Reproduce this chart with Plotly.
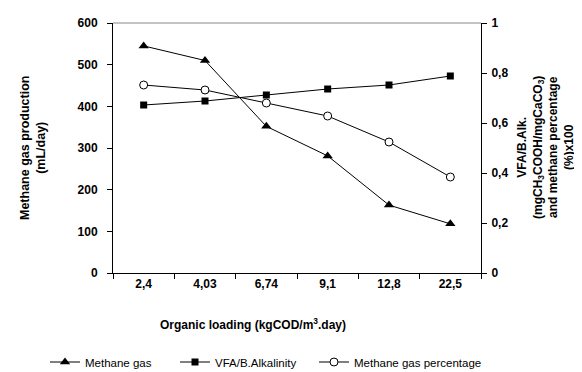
import plotly.graph_objects as go

categories = ["2,4", "4,03", "6,74", "9,1", "12,8", "22,5"]
methane_gas = [545, 510, 352, 281, 163, 118]
vfa_alk = [0.672, 0.688, 0.712, 0.736, 0.752, 0.788]
methane_pct = [0.752, 0.732, 0.680, 0.628, 0.524, 0.384]

font_family = "Liberation Sans, Arial, sans-serif"

fig = go.Figure()
fig.add_trace(go.Scatter(x=categories, y=methane_gas, name="Methane gas", mode="lines+markers",
                         legend="legend",
                         line=dict(color="black", width=1),
                         marker=dict(symbol="triangle-up", size=9, color="black")))
fig.add_trace(go.Scatter(x=categories, y=vfa_alk, name="VFA/B.Alkalinity", mode="lines+markers",
                         yaxis="y2", legend="legend2", line=dict(color="black", width=1),
                         marker=dict(symbol="square", size=7, color="black")))
fig.add_trace(go.Scatter(x=categories, y=methane_pct, name="Methane gas percentage", mode="lines+markers",
                         yaxis="y2", legend="legend3", line=dict(color="black", width=1),
                         marker=dict(symbol="circle", size=8, color="white", line=dict(color="black", width=1))))

bold = dict(size=12, family=font_family, weight="bold", color="black")
leg_font = dict(size=11.5, family=font_family, color="black")
leg_y = -(354 - 265) / 250


def leg(xpx):
    return dict(orientation="h", xref="container", yref="paper", x=xpx / 582, xanchor="left",
                y=leg_y, yanchor="middle", font=leg_font, itemwidth=30,
                bgcolor="rgba(0,0,0,0)")


fig.update_layout(
    width=582, height=372,
    margin=dict(l=105, r=109, t=15, b=107, autoexpand=False),
    paper_bgcolor="white", plot_bgcolor="white",
    separators=",.",
    font=dict(family=font_family, color="black", size=11),
    showlegend=True,
    legend=leg(37), legend2=leg(167), legend3=leg(306),
    xaxis=dict(type="category", tickson="boundaries", ticks="outside", ticklen=5,
               tickcolor="black", showline=True, linecolor="black", linewidth=1,
               showgrid=False, range=[-0.5, 5.5], tickfont=bold),
    yaxis=dict(range=[0, 600], dtick=100, ticks="outside", ticklen=5, tickcolor="black",
               showline=True, linecolor="black", linewidth=1, showgrid=False, zeroline=False,
               tickfont=bold, ticklabelstandoff=7),
    yaxis2=dict(range=[0, 1], dtick=0.2, overlaying="y", side="right", ticks="outside",
                ticklen=5, tickcolor="black", showline=True, linecolor="black", linewidth=1,
                showgrid=False, zeroline=False, tickfont=bold, ticklabelstandoff=2),
)

fig.add_shape(type="line", xref="paper", yref="paper", x0=0, x1=1, y0=1, y1=1,
              line=dict(color="#888888", width=1))

# axis titles
fig.add_annotation(text="Organic loading (kgCOD/m<sup>3</sup>.day)",
                   xref="paper", yref="paper", x=(245 - 105) / 368, y=-(316 - 265) / 250,
                   showarrow=False, xanchor="center", yanchor="middle", font=bold)
fig.add_annotation(text="Methane gas production<br>(mL/day)",
                   xref="paper", yref="paper", x=(25 - 105) / 368, y=0.5, textangle=-90,
                   showarrow=False, xanchor="center", yanchor="middle",
                   font=dict(size=12.5, family=font_family, weight="bold", color="black"))
fig.add_annotation(text="VFA/B.Alk.<br>(mgCH<sub>3</sub>COOH/mgCaCO<sub>3</sub>)<br>and methane percentage<br>(%)x100",
                   xref="paper", yref="paper", x=(537 - 105) / 368, y=0.5, textangle=-90,
                   showarrow=False, xanchor="center", yanchor="middle",
                   font=dict(size=12, family=font_family, weight="bold", color="black"))

fig.write_html("out.html")
